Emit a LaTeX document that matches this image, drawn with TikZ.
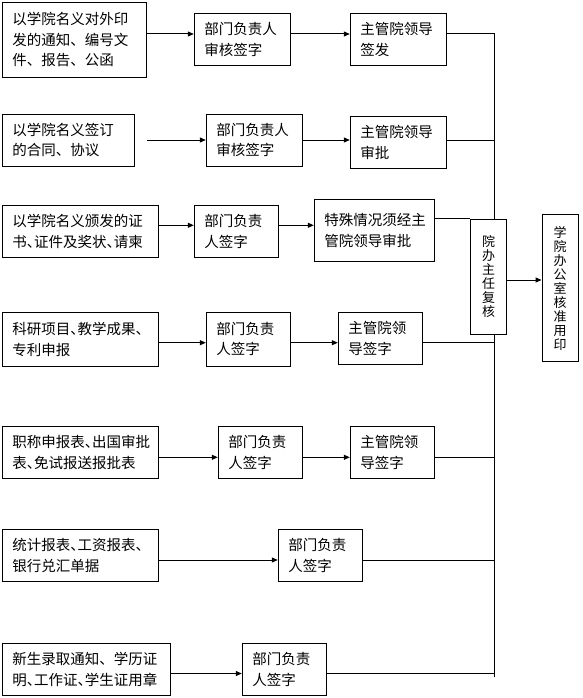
\documentclass[tikz,border=0pt]{standalone}
\usepackage{fontspec}
\setmainfont{Noto Sans CJK SC}
\usetikzlibrary{arrows.meta}
\usetikzlibrary{calc}

\newcommand{\dunhao}{\makebox[0.5em][l]{、}}

\tikzset{
    box/.style 2 args={draw, line width=1pt, text width=#1, minimum height=#2,
        inner xsep=10pt, inner ysep=2pt, align=left,
        font=\fontsize{14.5}{20.5}\selectfont},
    vbox/.style={draw, line width=1pt, minimum width=36pt, minimum height=#1,
        inner sep=0pt, align=center, font=\fontsize{13}{14}\selectfont},
    link/.style={line width=1pt},
    flow/.style={link, -{Triangle[length=6pt,width=5pt]}}
}

\begin{document}
                \begin{tikzpicture}[x=1pt,y=-1pt]
                    \useasboundingbox (0,0) rectangle (582,698);

                    \coordinate (Y0) at (0,280);
                    \coordinate (Y1) at (0,34);
                    \coordinate (Y2) at (0,140);
                    \coordinate (Y3) at (0,225.3);
                    \coordinate (Y4) at (0,342.7);
                    \coordinate (Y5) at (0,457.3);
                    \coordinate (Y6) at (0,560);
                    \coordinate (Y7) at (0,673.5);
                    \coordinate (T) at (494.3,34);
                    \coordinate (E) at (494.3,676.7);
                    \coordinate (F2) at (147,140);

                    \node[box={124.4pt}{75pt}] (A1) at (74.5,39.8) {以学院名义对外印\\发的通知、编号文\\件、报告、公函};
                    \node[box={76.4pt}{52pt}] (B1) at (242.5,39.3) {部门负责人\\审核签字};
                    \node[box={76pt}{52pt}] (C1) at (398.3,39.3) {主管院领导\\签发};

                    \node[box={112.4pt}{51.7pt}] (A2) at (68.5,140.2) {以学院名义签订\\的合同、协议};
                    \node[box={76.4pt}{51.7pt}] (B2) at (254.5,140.2) {部门负责人\\审核签字};
                    \node[box={76pt}{52pt}] (C2) at (398.3,142.3) {主管院领导\\审批};

                    \node[box={136.4pt}{51.6pt}] (A3) at (80.5,231.5) {以学院名义颁发的证\\书\dunhao 证件及奖状\dunhao 请柬};
                    \node[box={64pt}{51.6pt}] (B3) at (236.3,231.5) {部门负责\\人签字};
                    \node[box={100.4pt}{62pt}] (C3) at (374.5,230.3) {特殊情况须经主\\管院领导审批};

                    \node[box={136.4pt}{53.7pt}] (A4) at (80.5,339.2) {科研项目\dunhao 教学成果\dunhao\\专利申报};
                    \node[box={64.4pt}{53.7pt}] (B4) at (248.5,339.2) {部门负责\\人签字};
                    \node[box={64.4pt}{52pt}] (C4) at (380.5,338.3) {主管院领\\导签字};

                    \node[box={136.4pt}{52pt}] (A5) at (80.5,452.3) {职称申报表\dunhao 出国审批\\表\dunhao 免试报送报批表};
                    \node[box={64.4pt}{52pt}] (B5) at (260.5,452.3) {部门负责\\人签字};
                    \node[box={64.4pt}{52pt}] (C5) at (392.5,452.3) {主管院领\\导签字};

                    \node[box={136.4pt}{52pt}] (A6) at (80.5,555.3) {统计报表\dunhao 工资报表\dunhao\\银行兑汇单据};
                    \node[box={64.4pt}{52pt}] (B6) at (320.5,555.3) {部门负责\\人签字};

                    \node[box={148.4pt}{52pt}] (A7) at (86.5,669.3) {新生录取通知、学历证\\明\dunhao 工作证\dunhao 学生证用章};
                    \node[box={64pt}{52pt}] (B7) at (284.3,669.3) {部门负责\\人签字};

                    \node[vbox=114.7pt] (R) at (488.7,276.7) {院\\办\\主\\任\\复\\核};
                    \node[vbox=146.7pt] (P) at (560,288.3) {学\\院\\办\\公\\室\\核\\准\\用\\印};

                    \draw[flow] (A1.east |- Y1) -- (B1.west |- Y1);
                    \draw[flow] (B1.east |- Y1) -- (C1.west |- Y1);
                    \draw[link] (C1.east |- Y1) -- (T) -- (T |- R.north);

                    \draw[flow] (F2) -- (B2.west |- F2);
                    \draw[flow] (B2.east |- Y2) -- (C2.west |- Y2);
                    \draw[link] (C2.east |- Y2) -- (Y2 -| T);

                    \draw[flow] (A3.east |- Y3) -- (B3.west |- Y3);
                    \draw[flow] (B3.east |- Y3) -- (C3.west |- Y3);
                    \draw[link] (C3.east |- R.north west) -- (R.north west);

                    \draw[flow] (A4.east |- Y4) -- (B4.west |- Y4);
                    \draw[flow] (B4.east |- Y4) -- (C4.west |- Y4);
                    \draw[link] (C4.east |- Y4) -- (Y4 -| T);

                    \draw[flow] (A5.east |- Y5) -- (B5.west |- Y5);
                    \draw[flow] (B5.east |- Y5) -- (C5.west |- Y5);
                    \draw[link] (C5.east |- Y5) -- (Y5 -| T);

                    \draw[flow] (A6.east |- Y6) -- (B6.west |- Y6);
                    \draw[link] (B6.east |- Y6) -- (Y6 -| T);

                    \draw[flow] (A7.east |- Y7) -- (B7.west |- Y7);
                    \draw[link] (B7.east |- Y7) -- (Y7 -| T);

                    \draw[link] (T |- R.south) -- (E);
                    \draw[flow] (R.east |- Y0) -- (P.west |- Y0);
                \end{tikzpicture}
\end{document}
